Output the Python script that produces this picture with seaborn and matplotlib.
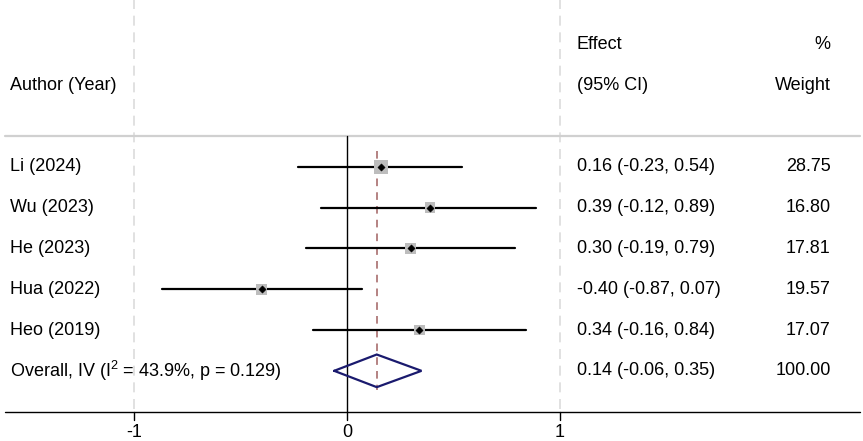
import matplotlib
matplotlib.use("Agg")
import matplotlib.pyplot as plt
import seaborn as sns
import numpy as np
import pandas as pd

# ---- data ----
studies = ["Li (2024)", "Wu (2023)", "He (2023)", "Hua (2022)", "Heo (2019)"]
effects = [0.16, 0.39, 0.30, -0.40, 0.34]
ci_low = [-0.23, -0.12, -0.19, -0.87, -0.16]
ci_high = [0.54, 0.89, 0.79, 0.07, 0.84]
weights = [28.75, 16.80, 17.81, 19.57, 17.07]
overall_label = "Overall, IV (I$^{2}$ = 43.9%, p = 0.129)"
overall_effect = 0.14
overall_low = -0.06
overall_high = 0.35
overall_weight = 100.00
x_ticks = [-1, 0, 1]
x_ticklabels = ["-1", "0", "1"]

sns.set_theme(style="white")
plt.rcParams["font.family"] = ["Liberation Sans", "DejaVu Sans"]
plt.rcParams["mathtext.fontset"] = "custom"
plt.rcParams["mathtext.rm"] = "Liberation Sans"
plt.rcParams["mathtext.it"] = "Liberation Sans"
plt.rcParams["text.color"] = "black"

fig = plt.figure(figsize=(8.63, 4.41), dpi=100)
ax = fig.add_axes([0, 0, 1, 1])
ax.set_xlim(-1.629, 2.423)
ax.set_ylim(7.72, -3.09)
ax.axis("off")

rows = np.arange(1, len(studies) + 1)
orow = len(studies) + 1
axis_row = orow + 1
fs = 13

df = pd.DataFrame({"study": studies, "effect": effects, "lo": ci_low,
                   "hi": ci_high, "w": weights, "row": rows})

# grid (dashed light) at -1 and 1
for xv in [-1, 1]:
    ax.plot([xv, xv], [-3.2, axis_row], color="#dcdcdc", lw=1.2,
            ls=(0, (6, 4)), zorder=0)

# separator line
ax.plot([-1.606, 2.408], [0.24, 0.24], color="#d0d0d0", lw=1.6, zorder=1)

# zero line
ax.plot([0, 0], [0.24, axis_row], color="black", lw=1.0, zorder=2)

# overall dashed line
ax.plot([overall_effect, overall_effect], [0.6, orow + 0.47], color="#a06060",
        lw=1.1, ls=(0, (5, 4)), zorder=3)

# CIs
for _, r in df.iterrows():
    ax.plot([r.lo, r.hi], [r.row, r.row], color="black", lw=1.6, zorder=4)

# weight squares (area proportional to weight)
sns.scatterplot(data=df, x="effect", y="row", size="w", sizes=(0, 100),
                size_norm=(0, max(weights)),
                marker="s", color="#bdbdbd", edgecolor="none", legend=False,
                ax=ax, zorder=5)
sns.scatterplot(data=df, x="effect", y="row", marker="D", s=14,
                color="black", edgecolor="black", legend=False, ax=ax, zorder=6)

# diamond
dx = [overall_low, overall_effect, overall_high, overall_effect, overall_low]
dy = [orow, orow - 0.4, orow, orow + 0.4, orow]
ax.plot(dx, dy, color="#1a1a6e", lw=1.6, zorder=6, solid_joinstyle="miter")

# axis line and ticks
ax.plot([-1.606, 2.408], [axis_row, axis_row], color="black", lw=1.0)
for t, lab in zip(x_ticks, x_ticklabels):
    ax.plot([t, t], [axis_row, axis_row + 0.2], color="black", lw=1.0)
    ax.text(t, axis_row + 0.5, lab, ha="center", va="center", fontsize=fs)

# text columns
xl, xe, xw = -1.582, 1.080, 2.271
ax.text(xl, -1, "Author (Year)", ha="left", va="center", fontsize=fs)
ax.text(xe, -2, "Effect", ha="left", va="center", fontsize=fs)
ax.text(xe, -1, "(95% CI)", ha="left", va="center", fontsize=fs)
ax.text(xw, -2, "%", ha="right", va="center", fontsize=fs)
ax.text(xw, -1, "Weight", ha="right", va="center", fontsize=fs)

for _, r in df.iterrows():
    ax.text(xl, r.row, r.study, ha="left", va="center", fontsize=fs)
    ax.text(xe, r.row, f"{r.effect:.2f} ({r.lo:.2f}, {r.hi:.2f})",
            ha="left", va="center", fontsize=fs)
    ax.text(xw, r.row, f"{r.w:.2f}", ha="right", va="center", fontsize=fs)

ax.text(xl, orow, overall_label, ha="left", va="center", fontsize=fs)
ax.text(xe, orow, f"{overall_effect:.2f} ({overall_low:.2f}, {overall_high:.2f})",
        ha="left", va="center", fontsize=fs)
ax.text(xw, orow, f"{overall_weight:.2f}", ha="right", va="center", fontsize=fs)

fig.savefig("out.png", dpi=100)
